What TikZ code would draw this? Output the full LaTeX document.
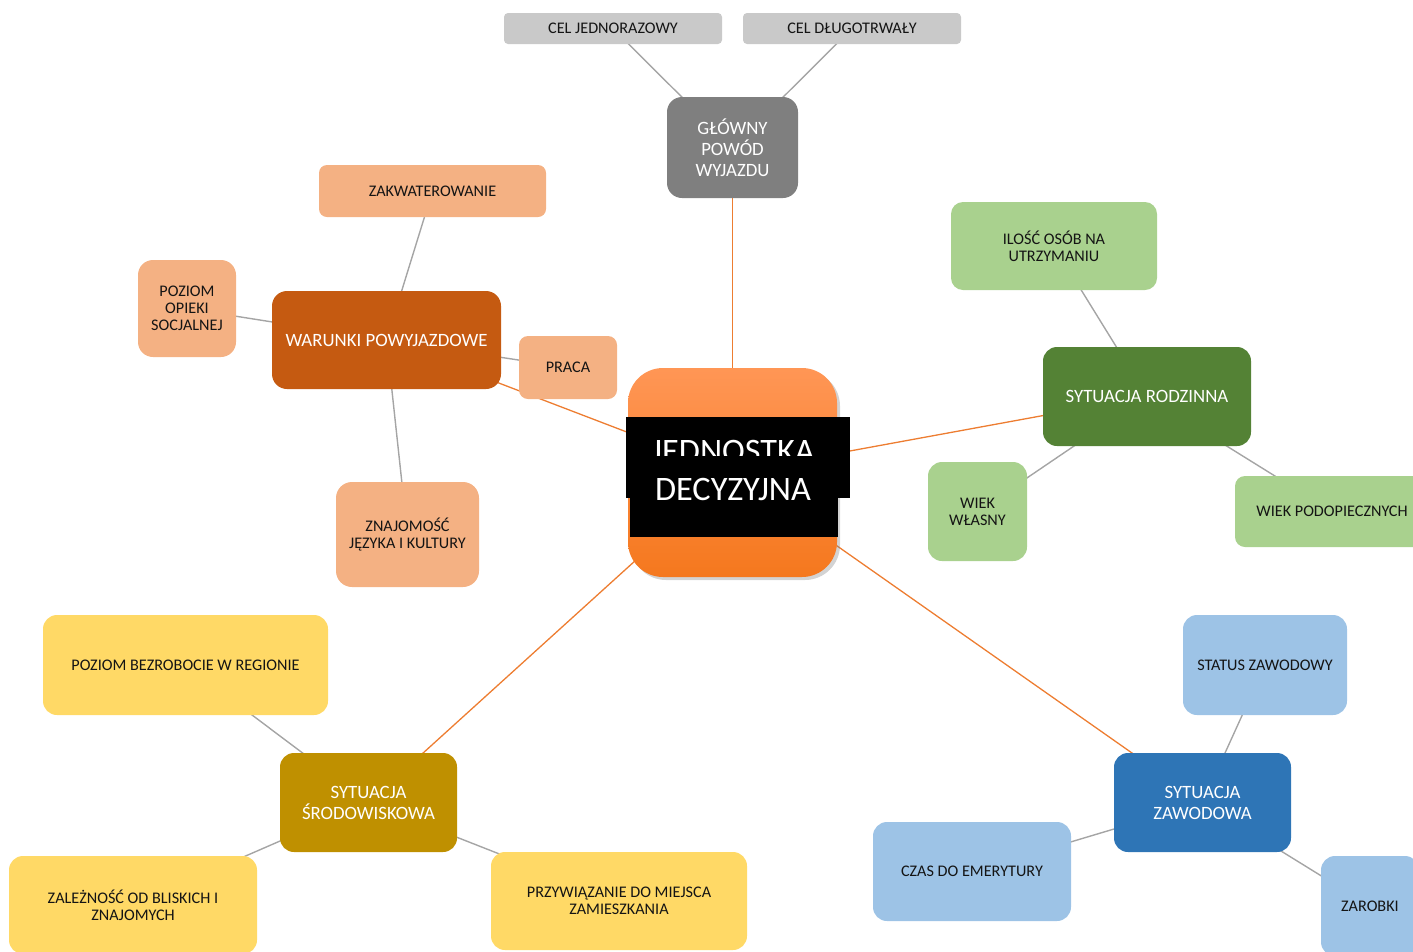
\documentclass[tikz,border=0pt]{standalone}
\usepackage{fontspec}
\setmainfont{Carlito}
\usetikzlibrary{shadows}
\pgfdeclarelayer{background}
\pgfsetlayers{background,main}
\definecolor{cgrayL}{HTML}{C9C9C9}
\definecolor{cgrayD}{HTML}{7F7F7F}
\definecolor{cpeach}{HTML}{F4B183}
\definecolor{corangeD}{HTML}{C55A11}
\definecolor{cgreenL}{HTML}{A9D18E}
\definecolor{cgreenD}{HTML}{548235}
\definecolor{cyellowL}{HTML}{FFD966}
\definecolor{cyellowD}{HTML}{BF9000}
\definecolor{cblueL}{HTML}{9DC3E6}
\definecolor{cblueD}{HTML}{2E75B6}
\definecolor{clineO}{HTML}{ED7D31}
\definecolor{clineG}{HTML}{A5A5A5}
\definecolor{ctop}{HTML}{FF9655}
\definecolor{cbot}{HTML}{F5781E}
\tikzset{
  lt/.style={align=center, inner sep=0pt, text=black!92,
    font=\fontsize{16.2}{17}\selectfont},
  dk/.style={align=center, inner sep=0pt, text=white,
    font=\fontsize{18.8}{21}\selectfont},
  oline/.style={draw=clineO, line width=1.3pt},
  gline/.style={draw=clineG, line width=1.4pt},
}
\begin{document}
\begin{tikzpicture}[x=1pt,y=-1pt]
\useasboundingbox (0,0) rectangle (1413,951);

% central node
\node[minimum width=209pt, minimum height=209pt, rounded corners=35pt,
  top color=ctop, bottom color=cbot,
  drop shadow={opacity=0.35, shadow xshift=3pt, shadow yshift=-3pt}] (c) at (732.5,472.5) {};
\fill[black] (626,417) rectangle (850,498);
\fill[black] (630,417) rectangle (838,537);
\begin{scope}
\clip (600,417) rectangle (860,455);
\node[anchor=base, inner sep=0pt, text=white, font=\fontsize{34.3}{38}\selectfont] (c1) at (733,462) {JEDNOSTKA};
\end{scope}
\node[anchor=base, inner sep=0pt, text=white, font=\fontsize{34.3}{38}\selectfont] (c2) at (733,500) {DECYZYJNA};

% top branch
\node[dk, fill=cgrayD, minimum width=131pt, minimum height=101pt, rounded corners=15pt] (g) at (732.5,147.5) {GŁÓWNY\\POWÓD\\WYJAZDU};
\node[lt, fill=cgrayL, minimum width=218pt, minimum height=31pt, rounded corners=4pt] (g1) at (613,28.5) {CEL JEDNORAZOWY};
\node[lt, fill=cgrayL, minimum width=218pt, minimum height=31pt, rounded corners=4pt] (g2) at (852,28.5) {CEL DŁUGOTRWAŁY};

% left-top branch
\node[dk, fill=corangeD, minimum width=229pt, minimum height=98pt, rounded corners=15pt] (w) at (386.5,340) {WARUNKI POWYJAZDOWE};
\node[lt, fill=cpeach, minimum width=227pt, minimum height=52pt, rounded corners=8pt] (w1) at (432.5,191) {ZAKWATEROWANIE};
\node[lt, fill=cpeach, minimum width=98pt, minimum height=97pt, rounded corners=15pt] (w2) at (187,308.5) {POZIOM\\OPIEKI\\SOCJALNEJ};
\node[lt, fill=cpeach, minimum width=98pt, minimum height=63pt, rounded corners=9pt] (w3) at (568,367.5) {PRACA};
\node[lt, fill=cpeach, minimum width=143pt, minimum height=105pt, rounded corners=16pt] (w4) at (407.5,534.5) {ZNAJOMOŚĆ\\JĘZYKA I KULTURY};

% right branch
\node[dk, fill=cgreenD, minimum width=208pt, minimum height=99pt, rounded corners=14pt] (r) at (1147,396.5) {SYTUACJA RODZINNA};
\node[lt, fill=cgreenL, minimum width=206pt, minimum height=88pt, rounded corners=12pt] (r1) at (1054,246) {ILOŚĆ OSÓB NA\\UTRZYMANIU};
\node[lt, fill=cgreenL, minimum width=99pt, minimum height=99pt, rounded corners=14pt] (r2) at (977.5,511.5) {WIEK\\WŁASNY};
\node[lt, fill=cgreenL, minimum width=194pt, minimum height=71pt, rounded corners=10pt] (r3) at (1332,511.5) {WIEK PODOPIECZNYCH};

% left-bottom branch
\node[dk, fill=cyellowD, minimum width=177pt, minimum height=99pt, rounded corners=14pt] (s) at (368.5,802.5) {SYTUACJA\\ŚRODOWISKOWA};
\node[lt, fill=cyellowL, minimum width=285pt, minimum height=100pt, rounded corners=14pt] (s1) at (185.5,665) {POZIOM BEZROBOCIE W REGIONIE};
\node[lt, fill=cyellowL, minimum width=248pt, minimum height=98pt, rounded corners=14pt] (s2) at (133,905) {ZALEŻNOŚĆ OD BLISKICH I\\ZNAJOMYCH};
\node[lt, fill=cyellowL, minimum width=256pt, minimum height=98pt, rounded corners=14pt] (s3) at (619,901) {PRZYWIĄZANIE DO MIEJSCA\\ZAMIESZKANIA};

% right-bottom branch
\node[dk, fill=cblueD, minimum width=177pt, minimum height=99pt, rounded corners=14pt] (z) at (1202.5,802.5) {SYTUACJA\\ZAWODOWA};
\node[lt, fill=cblueL, minimum width=164pt, minimum height=100pt, rounded corners=14pt] (z1) at (1265,665) {STATUS ZAWODOWY};
\node[lt, fill=cblueL, minimum width=198pt, minimum height=99pt, rounded corners=14pt] (z2) at (972,871.5) {CZAS DO EMERYTURY};
\node[lt, fill=cblueL, minimum width=98pt, minimum height=100pt, rounded corners=14pt] (z3) at (1370,906) {ZAROBKI};

\begin{pgfonlayer}{background}
\draw[oline] (c.center) -- (g.center);
\draw[oline] (c.center) -- (w.center);
\draw[oline] (c.center) -- (r.center);
\draw[oline] (c.center) -- (s.center);
\draw[oline] (c.center) -- (z.center);
\draw[gline] (g.center) -- (g1.center);
\draw[gline] (g.center) -- (g2.center);
\draw[gline] (w.center) -- (w1.center);
\draw[gline] (w.center) -- (w2.center);
\draw[gline] (w.center) -- (w3.center);
\draw[gline] (w.center) -- (w4.center);
\draw[gline] (r.center) -- (r1.center);
\draw[gline] (r.center) -- (r2.center);
\draw[gline] (r.center) -- (r3.center);
\draw[gline] (s.center) -- (s1.center);
\draw[gline] (s.center) -- (s2.center);
\draw[gline] (s.center) -- (s3.center);
\draw[gline] (z.center) -- (z1.center);
\draw[gline] (z.center) -- (z2.center);
\draw[gline] (z.center) -- (z3.center);
\end{pgfonlayer}
\end{tikzpicture}
\end{document}
